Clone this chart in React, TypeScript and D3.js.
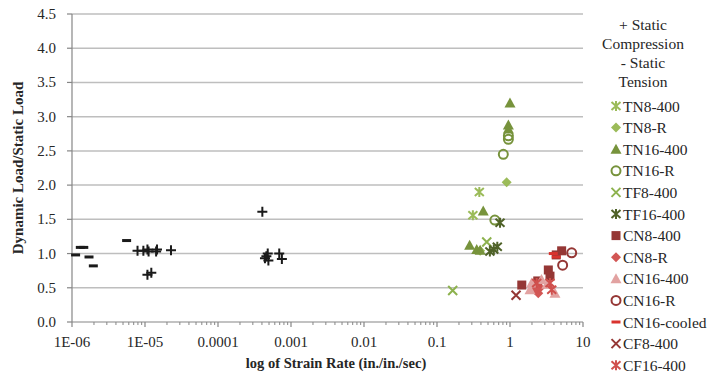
import React from "react";
import * as d3 from "d3";

// Strain rate (in./in./sec) and dynamic/static load ratio for each series
const staticCompression: [number, number][] = [
  [7.9e-6, 1.04], [9.5e-6, 1.04], [1.08e-5, 1.06], [1.12e-5, 1.03],
  [1.42e-5, 1.03], [1.46e-5, 1.06], [2.27e-5, 1.05], [1.08e-5, 0.69],
  [1.22e-5, 0.72], [4.05e-4, 1.61], [4.4e-4, 0.93], [4.8e-4, 1.0],
  [4.6e-4, 0.96], [4.9e-4, 0.9], [6.9e-4, 1.0], [7.5e-4, 0.92],
];
const staticTension: [number, number][] = [
  [1.12e-6, 0.98], [1.3e-6, 1.09], [1.45e-6, 1.09], [1.71e-6, 0.95],
  [1.96e-6, 0.82], [5.6e-6, 1.19],
];
const tn8400: [number, number][] = [[0.38, 1.9], [0.31, 1.56]];
const tn8R: [number, number][] = [[0.9, 2.04], [0.39, 1.04]];
const tn16400: [number, number][] = [
  [1.0, 3.2], [0.95, 2.88], [0.95, 2.82], [0.43, 1.62],
  [0.28, 1.12], [0.35, 1.06], [0.39, 1.05],
];
const tn16R: [number, number][] = [[0.95, 2.72], [0.95, 2.67], [0.81, 2.45], [0.62, 1.49]];
const tf8400: [number, number][] = [[0.48, 1.17], [0.164, 0.46]];
const tf16400: [number, number][] = [[0.73, 1.45], [0.53, 1.03], [0.67, 1.1], [0.6, 1.06]];
const cn8400: [number, number][] = [
  [5.1, 1.04], [4.3, 0.98], [3.35, 0.76], [3.53, 0.67], [1.45, 0.54], [2.4, 0.6],
];
const cn8R: [number, number][] = [[2.44, 0.42], [2.58, 0.5], [2.2, 0.47]];
const cn16400: [number, number][] = [
  [1.98, 0.57], [1.88, 0.47], [4.13, 0.42], [2.7, 0.62], [3.2, 0.55],
];
const cn16R: [number, number][] = [[7.0, 1.01], [5.26, 0.83]];
const cn16Cooled: [number, number][] = [[3.92, 1.0], [4.3, 0.95]];
const cf8400: [number, number][] = [[1.21, 0.39]];
const cf16400: [number, number][] = [[2.32, 0.57], [3.53, 0.57], [3.73, 0.47]];

const xTicks = [1e-6, 1e-5, 1e-4, 1e-3, 1e-2, 1e-1, 1, 10];
const xTickLabels = ["1E-06", "1E-05", "0.0001", "0.001", "0.01", "0.1", "1", "10"];
const yTicks = [0, 0.5, 1, 1.5, 2, 2.5, 3, 3.5, 4, 4.5];

const legendTitle = ["+ Static", "Compression", "- Static", "Tension"];

type Shape = "star" | "diamond" | "triangle" | "circle" | "x" | "square" | "dash" | "plus";

interface Series {
  name: string;
  data: [number, number][];
  shape: Shape;
  color: string;
}

const series: Series[] = [
  { name: "Static Compression", data: staticCompression, shape: "plus", color: "#1a1a1a" },
  { name: "Static Tension", data: staticTension, shape: "dash", color: "#1a1a1a" },
  { name: "TN8-400", data: tn8400, shape: "star", color: "#9BBB59" },
  { name: "TN8-R", data: tn8R, shape: "diamond", color: "#9BBB59" },
  { name: "TN16-400", data: tn16400, shape: "triangle", color: "#77933C" },
  { name: "TN16-R", data: tn16R, shape: "circle", color: "#77933C" },
  { name: "TF8-400", data: tf8400, shape: "x", color: "#8DB24E" },
  { name: "TF16-400", data: tf16400, shape: "star", color: "#4F6228" },
  { name: "CN8-400", data: cn8400, shape: "square", color: "#953735" },
  { name: "CN8-R", data: cn8R, shape: "diamond", color: "#D25654" },
  { name: "CN16-400", data: cn16400, shape: "triangle", color: "#E2A2A1" },
  { name: "CN16-R", data: cn16R, shape: "circle", color: "#953735" },
  { name: "CN16-cooled", data: cn16Cooled, shape: "dash", color: "#D9332E" },
  { name: "CF8-400", data: cf8400, shape: "x", color: "#953735" },
  { name: "CF16-400", data: cf16400, shape: "star", color: "#D0504D" },
];

const W = 717;
const H = 377;
const plot = { left: 72, right: 583, top: 14, bottom: 322 };

const x = d3.scaleLog().domain([1e-6, 10]).range([plot.left, plot.right]);
const y = d3.scaleLinear().domain([0, 4.5]).range([plot.bottom, plot.top]);

function Marker({ shape, color, cx, cy }: { shape: Shape; color: string; cx: number; cy: number }) {
  const t = `translate(${cx},${cy})`;
  switch (shape) {
    case "square":
      return <rect x={cx - 4.5} y={cy - 4.5} width={9} height={9} fill={color} />;
    case "diamond":
      return <path transform={t} d="M0,-5L5,0L0,5L-5,0Z" fill={color} />;
    case "triangle":
      return <path transform={t} d="M0,-5.5L5.5,4.5L-5.5,4.5Z" fill={color} />;
    case "circle":
      return <circle cx={cx} cy={cy} r={4.5} fill="none" stroke={color} strokeWidth={2} />;
    case "x":
      return (
        <path transform={t} d="M-4.5,-4.5L4.5,4.5M-4.5,4.5L4.5,-4.5" stroke={color} strokeWidth={2} fill="none" />
      );
    case "star":
      return (
        <path
          transform={t}
          d="M-4.5,-4L4.5,4M-4.5,4L4.5,-4M0,-5L0,5"
          stroke={color}
          strokeWidth={2}
          fill="none"
        />
      );
    case "dash":
      return <path transform={t} d="M-4.5,0L4.5,0" stroke={color} strokeWidth={3} fill="none" />;
    case "plus":
      return <path transform={t} d="M-5,0L5,0M0,-5L0,5" stroke={color} strokeWidth={2} fill="none" />;
  }
}

export default function App() {
  // minor ticks for each decade of the log axis
  const minorTicks: number[] = [];
  for (let e = -6; e < 1; e++) {
    for (let m = 2; m <= 9; m++) minorTicks.push(m * Math.pow(10, e));
  }
  const legendSeries = series.slice(2);
  const font = "'Liberation Serif', 'Times New Roman', serif";
  const textColor = "#262626";

  return (
    <div style={{ position: "absolute", left: 0, top: 0 }}>
      <svg width={W} height={H} style={{ display: "block", background: "#fff", fontFamily: font }}>
        {/* horizontal gridlines */}
        {yTicks.slice(1).map((v) => (
          <line key={v} x1={plot.left} x2={plot.right} y1={y(v)} y2={y(v)} stroke="#BEBEBE" strokeWidth={1.5} />
        ))}
        {/* y axis */}
        <line x1={plot.left} x2={plot.left} y1={plot.top} y2={plot.bottom} stroke="#868686" strokeWidth={1.2} />
        {yTicks.map((v) => (
          <g key={v}>
            <line x1={plot.left - 5} x2={plot.left} y1={y(v)} y2={y(v)} stroke="#868686" strokeWidth={1.2} />
            <text x={plot.left - 16} y={y(v) + 5} textAnchor="end" fontSize={15} fill={textColor}>
              {v.toFixed(1)}
            </text>
          </g>
        ))}
        {/* x axis */}
        <line x1={plot.left} x2={plot.right} y1={plot.bottom} y2={plot.bottom} stroke="#868686" strokeWidth={1.2} />
        {minorTicks.map((v) => (
          <line key={v} x1={x(v)} x2={x(v)} y1={plot.bottom} y2={plot.bottom + 3} stroke="#868686" strokeWidth={1} />
        ))}
        {xTicks.map((v, i) => (
          <g key={v}>
            <line x1={x(v)} x2={x(v)} y1={plot.bottom} y2={plot.bottom + 5} stroke="#868686" strokeWidth={1.2} />
            <text x={x(v)} y={plot.bottom + 25} textAnchor="middle" fontSize={15} fill={textColor}>
              {xTickLabels[i]}
            </text>
          </g>
        ))}
        {/* axis titles */}
        <text
          x={336}
          y={368}
          textAnchor="middle"
          fontSize={14.5}
          fontWeight="bold"
          fill={textColor}
        >
          log of Strain Rate (in./in./sec)
        </text>
        <text
          transform={`translate(23,${(plot.top + plot.bottom) / 2}) rotate(-90)`}
          textAnchor="middle"
          fontSize={15}
          fontWeight="bold"
          fill={textColor}
        >
          Dynamic Load/Static Load
        </text>
        {/* data */}
        {series.map((s) => (
          <g key={s.name}>
            {s.data.map(([dx, dy], i) => (
              <Marker key={i} shape={s.shape} color={s.color} cx={x(dx)} cy={y(dy)} />
            ))}
          </g>
        ))}
        {/* legend */}
        {legendTitle.map((line, i) => (
          <text key={line} x={643} y={30 + i * 19} textAnchor="middle" fontSize={15.5} fill={textColor}>
            {line}
          </text>
        ))}
        {legendSeries.map((s, i) => {
          const cy = 106 + i * 21.6;
          return (
            <g key={s.name}>
              <Marker shape={s.shape} color={s.color} cx={616} cy={cy} />
              <text x={623} y={cy + 5.5} fontSize={15.5} fill={textColor}>
                {s.name}
              </text>
            </g>
          );
        })}
      </svg>
    </div>
  );
}
